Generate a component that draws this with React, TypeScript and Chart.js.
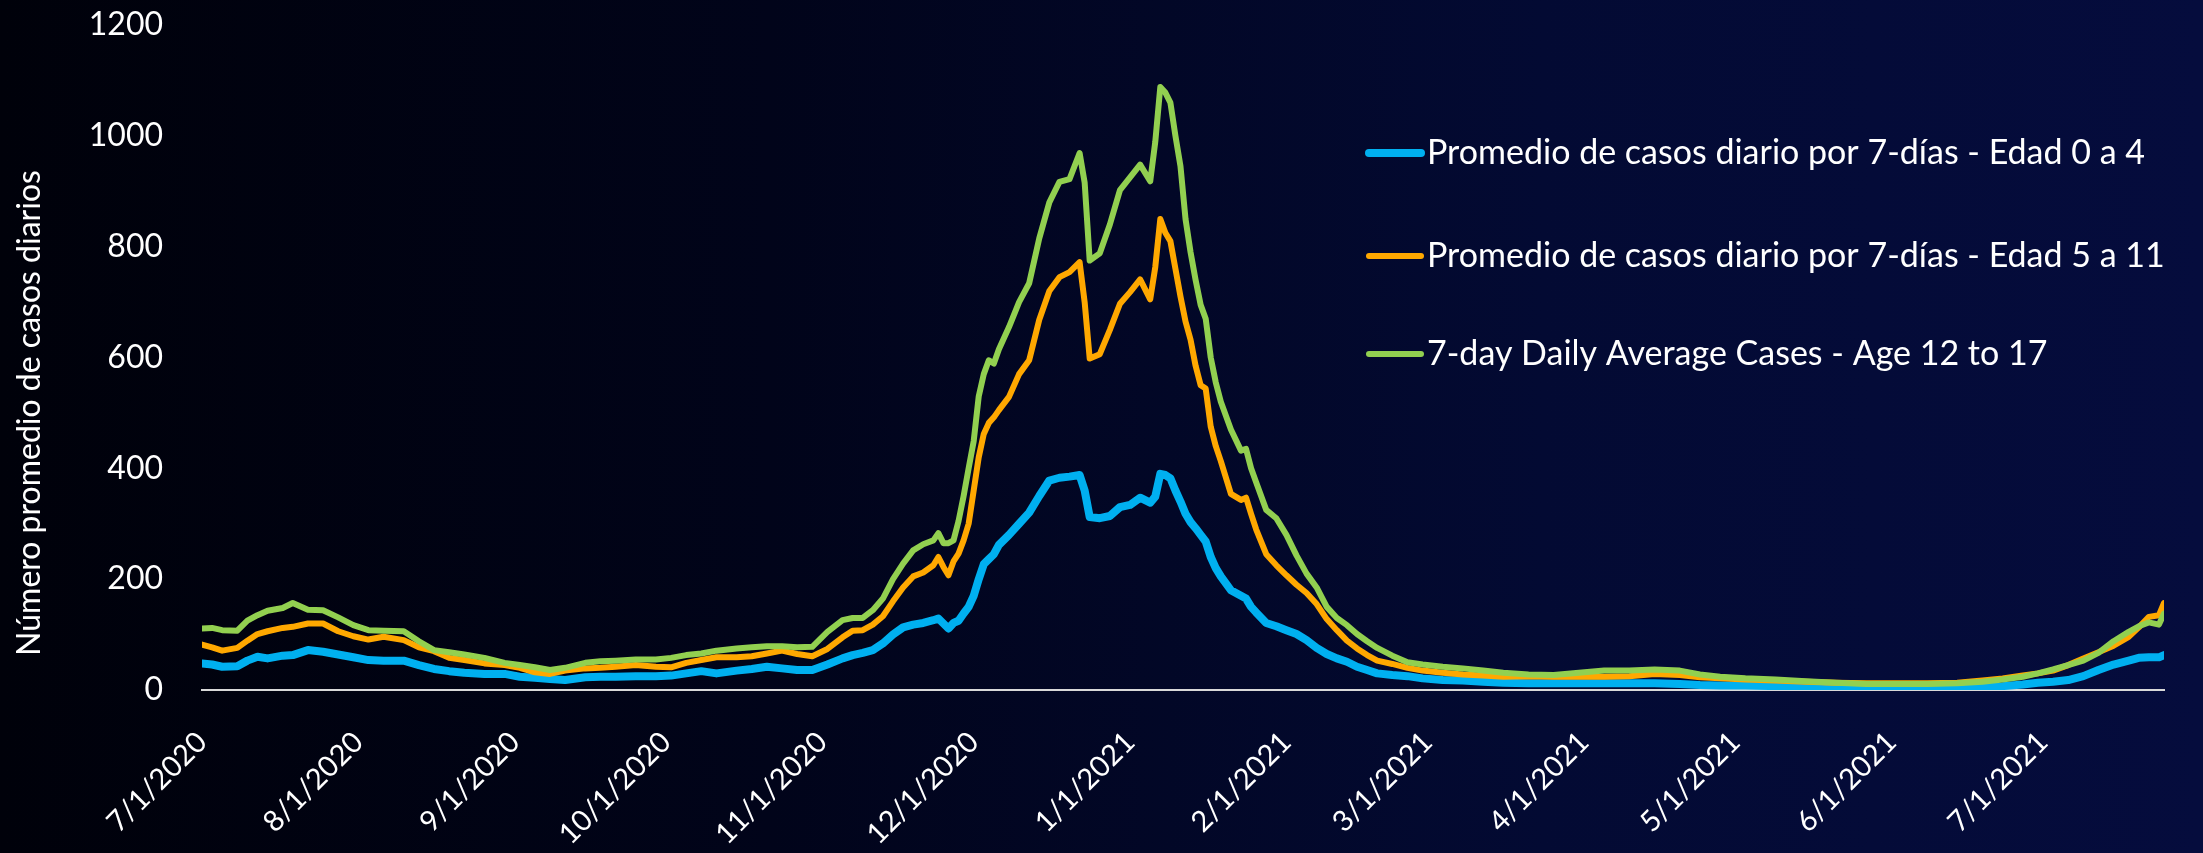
import React, { useEffect, useRef } from 'react';
import { Chart, registerables } from 'chart.js';

Chart.register(...registerables);

// Days elapsed since 7/1/2020
const dayOffsets = [
  0, 2, 4, 7, 9, 11, 13, 16, 18, 21,
  24, 27, 30, 33, 36, 40, 43, 46, 49, 52,
  56, 60, 63, 66, 69, 72, 76, 79, 82, 86,
  90, 93, 96, 99, 102, 106, 109, 112, 115, 118,
  121, 124, 127, 129, 131, 133, 135, 137, 139, 141,
  143, 145, 146, 147, 148, 149, 150, 151, 152, 153,
  154, 155, 156, 157, 158, 160, 162, 164, 166, 168,
  170, 172, 174, 175, 176, 178, 180, 182, 184, 186,
  188, 189, 190, 191, 192, 193, 194, 195, 196, 197,
  198, 199, 200, 201, 202, 204, 206, 207, 208, 209,
  211, 213, 215, 217, 219, 221, 223, 225, 227, 229,
  231, 233, 236, 239, 242, 246, 250, 254, 258, 263,
  268, 273, 278, 283, 288, 293, 297, 301, 306, 312,
  318, 324, 330, 336, 342, 348, 353, 357, 361, 364,
  367, 370, 373, 376, 379, 382, 384, 386, 388, 389,
];

const age0to4 = [
  48, 46, 42, 43, 53, 60, 57, 62, 63, 72,
  69, 64, 59, 54, 53, 53, 45, 38, 34, 31,
  29, 29, 24, 22, 20, 18, 23, 24, 24, 25,
  25, 26, 30, 34, 30, 35, 38, 42, 39, 36,
  36, 46, 57, 63, 67, 72, 84, 100, 113, 118,
  121, 126, 129, 120, 111, 121, 125, 138, 150, 170,
  200, 227, 236, 245, 262, 280, 300, 320, 350, 378,
  383, 385, 388, 360, 312, 310, 314, 330, 334, 347,
  338, 349, 390, 388, 382, 360, 340, 318, 303, 292,
  280, 268, 240, 220, 205, 180, 170, 165, 150, 140,
  121, 115, 108, 101, 90, 76, 65, 57, 51, 42,
  36, 30, 27, 25, 21, 18, 17, 15, 13, 12,
  12, 12, 12, 12, 12, 11, 9, 8, 8, 7,
  5, 4, 3, 3, 3, 4, 5, 7, 10, 13,
  15, 18, 25, 36, 46, 53, 58, 59, 59, 63,
];

const age5to11 = [
  82, 77, 71, 76, 89, 101, 106, 112, 114, 120,
  120, 106, 97, 91, 96, 90, 77, 70, 58, 54,
  48, 45, 40, 32, 29, 35, 39, 40, 42, 45,
  42, 41, 49, 54, 59, 59, 61, 66, 71, 65,
  61, 74, 95, 107, 108, 118, 133, 160, 185, 205,
  212, 225, 240, 222, 207, 232, 246, 270, 300, 360,
  420, 462, 482, 492, 505, 529, 570, 595, 668, 720,
  745, 754, 772, 700, 598, 606, 650, 697, 718, 741,
  705, 763, 850, 825, 810, 760, 710, 665, 632, 585,
  550, 544, 475, 440, 413, 354, 343, 347, 318, 290,
  245, 225, 207, 190, 175, 155, 128, 108, 89, 75,
  63, 53, 47, 40, 35, 31, 28, 26, 24, 25,
  24, 24, 24, 25, 29, 27, 23, 21, 19, 17,
  15, 13, 12, 12, 12, 13, 17, 21, 26, 30,
  35, 45, 57, 68, 80, 96, 113, 132, 135, 157,
];

const age12to17 = [
  111, 112, 108, 107, 125, 135, 143, 148, 157, 145,
  144, 131, 117, 108, 107, 106, 88, 72, 68, 64,
  58, 49, 45, 41, 36, 40, 49, 52, 53, 55,
  55, 58, 63, 66, 71, 75, 77, 79, 79, 77,
  78, 105, 126, 130, 130, 144, 165, 200, 228, 252,
  263, 270, 283, 265, 265, 270, 305, 350, 400, 449,
  530, 570, 595, 589, 615, 655, 700, 734, 815, 880,
  917, 922, 969, 916, 775, 788, 840, 902, 925, 948,
  918, 989, 1088, 1078, 1060, 1000, 945, 850, 790, 740,
  695, 670, 600, 555, 520, 470, 432, 435, 400, 375,
  325, 310, 280, 243, 210, 185, 150, 130, 117, 101,
  88, 76, 62, 50, 46, 42, 39, 35, 31, 28,
  27, 31, 35, 35, 37, 35, 28, 24, 21, 19,
  16, 13, 11, 11, 11, 12, 15, 19, 24, 30,
  37, 45, 53, 67, 88, 105, 115, 122, 118, 138,
];

const seriesLabels = [
  'Promedio de casos diario por 7-días - Edad 0 a 4',
  'Promedio de casos diario por 7-días - Edad 5 a 11',
  '7-day Daily Average Cases - Age 12 to 17',
];

const tickDays = [0, 31, 62, 92, 123, 153, 184, 215, 243, 274, 304, 335, 365];
const tickLabels = [
  '7/1/2020', '8/1/2020', '9/1/2020', '10/1/2020', '11/1/2020', '12/1/2020',
  '1/1/2021', '2/1/2021', '3/1/2021', '4/1/2021', '5/1/2021', '6/1/2021', '7/1/2021',
];

const yAxisTitle = 'Número promedio de casos diarios';

const FONT = 'Lato';

const toPoints = (vals: number[]) => vals.map((v, i) => ({ x: dayOffsets[i], y: v }));

const overlayPlugin = {
  id: 'overlayText',
  afterDraw(chart: any) {
    const ctx = chart.ctx as CanvasRenderingContext2D;
    ctx.save();
    // y axis title
    ctx.fillStyle = '#ffffff';
    ctx.font = `32px ${FONT}`;
    ctx.textAlign = 'center';
    ctx.textBaseline = 'middle';
    ctx.translate(30, 413);
    ctx.rotate(-Math.PI / 2);
    ctx.fillText(yAxisTitle, 0, 0);
    ctx.restore();

    // inset legend
    const rows = [153, 256, 354];
    chart.data.datasets.forEach((ds: any, i: number) => {
      const y = rows[i];
      ctx.save();
      ctx.strokeStyle = ds.borderColor;
      ctx.lineWidth = ds.borderWidth;
      ctx.lineCap = 'round';
      ctx.beginPath();
      ctx.moveTo(1369, y);
      ctx.lineTo(1421, y);
      ctx.stroke();
      ctx.fillStyle = '#ffffff';
      ctx.font = `34px ${FONT}`;
      ctx.textAlign = 'left';
      ctx.textBaseline = 'middle';
      ctx.fillText(ds.label, 1427, y);
      ctx.restore();
    });
  },
};

export default function App() {
  const canvasRef = useRef<HTMLCanvasElement | null>(null);

  useEffect(() => {
    if (!canvasRef.current) return;
    const chart = new Chart(canvasRef.current, {
      type: 'line',
      data: {
        datasets: [
          {
            label: seriesLabels[0],
            data: toPoints(age0to4),
            borderColor: '#00B0F0',
            borderWidth: 8,
            order: 3,
          },
          {
            label: seriesLabels[1],
            data: toPoints(age5to11),
            borderColor: '#FFA800',
            borderWidth: 6,
            order: 2,
          },
          {
            label: seriesLabels[2],
            data: toPoints(age12to17),
            borderColor: '#92D050',
            borderWidth: 6,
            order: 1,
          },
        ],
      },
      options: {
        animation: false,
        responsive: true,
        maintainAspectRatio: false,
        elements: {
          point: { radius: 0, hoverRadius: 0 },
          line: { tension: 0, borderJoinStyle: 'round', borderCapStyle: 'round', fill: false },
        },
        layout: { padding: { top: 25, right: 39, left: 0, bottom: 0 } },
        plugins: {
          legend: { display: false },
          tooltip: { enabled: false },
        },
        scales: {
          x: {
            type: 'linear',
            min: 0,
            max: 389,
            grid: { display: false, drawTicks: false },
            border: { display: true, color: '#d9d9d9', width: 2 },
            afterBuildTicks: (scale: any) => {
              scale.ticks = tickDays.map((v) => ({ value: v }));
            },
            afterFit: (scale: any) => {
              scale.height = 163;
            },
            ticks: {
              autoSkip: false,
              maxRotation: 45,
              minRotation: 45,
              color: '#ffffff',
              padding: 35,
              font: { family: FONT, size: 29 },
              callback: (value: any) => {
                const i = tickDays.indexOf(Number(value));
                return i >= 0 ? tickLabels[i] : '';
              },
            },
          },
          y: {
            min: 0,
            max: 1200,
            grid: { display: false, drawTicks: false },
            border: { display: false },
            afterFit: (scale: any) => {
              scale.width = 202;
              scale.paddingTop = 18;
              scale.paddingBottom = 18;
            },
            ticks: {
              stepSize: 200,
              color: '#ffffff',
              padding: 39,
              font: { family: FONT, size: 32 },
              callback: (value: any) => String(value),
            },
          },
        },
      },
      plugins: [overlayPlugin],
    });
    return () => chart.destroy();
  }, []);

  return (
    <div
      style={{
        position: 'fixed',
        left: 0,
        top: 0,
        width: 2203,
        height: 853,
        background: 'linear-gradient(90deg, #00010a 0%, #01041a 35%, #030a33 70%, #050c3d 100%)',
      }}
    >
      <canvas ref={canvasRef} />
    </div>
  );
}
